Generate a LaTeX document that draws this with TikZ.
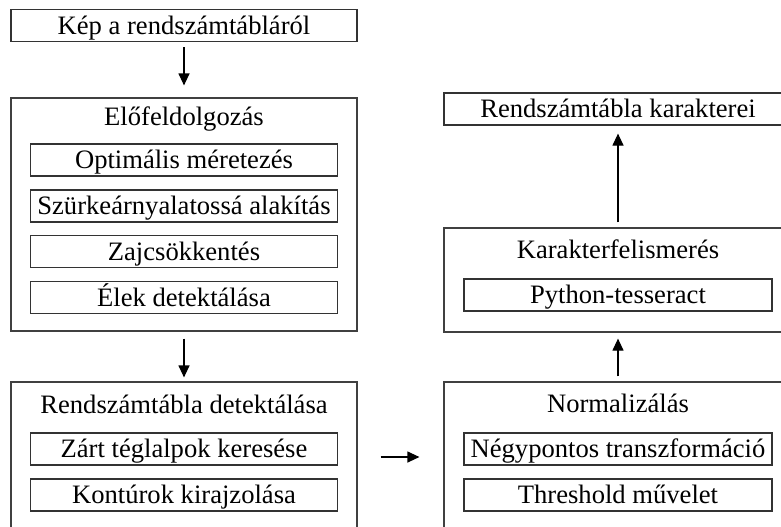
\documentclass[tikz,border=0pt]{standalone}
\usepackage{fontspec}
\setmainfont{Liberation Serif}
\usetikzlibrary{arrows.meta}

\begin{document}
\begin{tikzpicture}[x=0.5pt,y=-0.5pt]
\tikzset{
  every node/.style={font=\fontsize{13.3}{16}\selectfont, inner sep=0pt,
    text height=11pt, text depth=2.2pt},
  box/.style={draw=black!80, line width=0.6pt, minimum height=16pt},
  outerbox/.style={draw=black!75, line width=0.6pt},
  subbox/.style={box, minimum width=153.5pt},
  flow/.style={-{Triangle[width=5.5pt,length=6pt]}, line width=0.6pt},
}
\useasboundingbox (0,0) rectangle (781,526);
\clip (0,0) rectangle (781,526);

% bal oszlop
\node[box, minimum width=173pt] (kep) at (184,25.5) {Kép a rendszámtábláról};
\node[outerbox, minimum width=173pt, minimum height=116.5pt] (elo) at (184,214.5) {};
\node (eloT) at (184,117) {Előfeldolgozás};
\node[subbox] (opt) at (184,160) {Optimális méretezés};
\node[subbox] (szurke) at (184,206) {Szürkeárnyalatossá alakítás};
\node[subbox] (zaj) at (184,251.5) {Zajcsökkentés};
\node[subbox] (elek) at (184,297.5) {Élek detektálása};
\node[outerbox, minimum width=173pt, minimum height=75pt] (det) at (184,457) {};
\node (detT) at (184,404.5) {Rendszámtábla detektálása};
\node[subbox] (zart) at (184,449) {Zárt téglalpok keresése};
\node[subbox] (kont) at (184,495) {Kontúrok kirajzolása};

% jobb oszlop
\node[outerbox, minimum width=174pt, minimum height=75pt] (norm) at (618,457) {};
\node (normT) at (618,404) {Normalizálás};
\node[subbox, minimum width=154pt] (negy) at (618,449) {Négypontos transzformáció};
\node[subbox, minimum width=154pt] (thr) at (618,495) {Threshold művelet};
\node[outerbox, minimum width=174pt, minimum height=52pt] (kar) at (618,280) {};
\node (karT) at (618,250) {Karakterfelismerés};
\node[subbox, minimum width=154pt] (py) at (618,295) {Python-tesseract};
\node[box, minimum width=174pt] (rkar) at (618,109) {Rendszámtábla karakterei};

% nyilak
\draw[flow, shorten <=2.5pt, shorten >=6pt] (kep.south) -- (elo.north);
\draw[flow, shorten <=3.5pt, shorten >=2pt] (elo.south) -- (det.north);
\draw[flow, shorten <=11.5pt, shorten >=12pt] (det.east) -- (norm.west);
\draw[flow, shorten <=2.5pt, shorten >=3pt] (norm.north) -- (kar.south);
\draw[flow, shorten <=2.5pt, shorten >=4pt] (kar.north) -- (rkar.south);
\end{tikzpicture}
\end{document}
